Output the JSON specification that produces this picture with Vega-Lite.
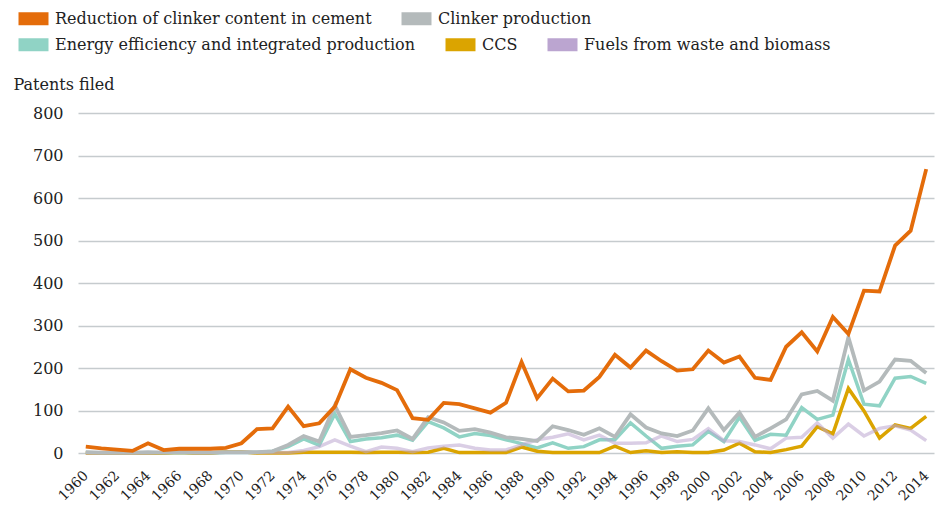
{
  "$schema": "https://vega.github.io/schema/vega-lite/v6.json",
  "width": 856,
  "height": 340,
  "autosize": "none",
  "padding": {"left": 78, "top": 113, "right": 1, "bottom": 53},
  "background": "white",
  "config": {
    "font": "DejaVu Serif",
    "view": {"stroke": null},
    "axis": {"labelFont": "DejaVu Serif", "titleFont": "DejaVu Serif", "labelColor": "#222222", "titleColor": "#222222"},
    "legend": {
      "orient": "none",
      "direction": "horizontal",
      "title": null,
      "symbolType": "M-1,0H1",
      "symbolSize": 900,
      "symbolStrokeWidth": 13,
      "labelFont": "DejaVu Serif",
      "labelFontSize": 16,
      "labelColor": "#222222",
      "labelLimit": 0,
      "labelOffset": 0,
      "columnPadding": 3
    }
  },
  "data": {
    "values": [
      {"year": 1960, "Reduction of clinker content in cement": 15, "Clinker production": 2, "Energy efficiency and integrated production": 1, "CCS": 0, "Fuels from waste and biomass": 0},
      {"year": 1961, "Reduction of clinker content in cement": 11, "Clinker production": 1, "Energy efficiency and integrated production": 0, "CCS": 0, "Fuels from waste and biomass": 0},
      {"year": 1962, "Reduction of clinker content in cement": 8, "Clinker production": 1, "Energy efficiency and integrated production": 0, "CCS": 0, "Fuels from waste and biomass": 0},
      {"year": 1963, "Reduction of clinker content in cement": 5, "Clinker production": 1, "Energy efficiency and integrated production": 0, "CCS": 0, "Fuels from waste and biomass": 0},
      {"year": 1964, "Reduction of clinker content in cement": 23, "Clinker production": 2, "Energy efficiency and integrated production": 0, "CCS": 0, "Fuels from waste and biomass": 0},
      {"year": 1965, "Reduction of clinker content in cement": 7, "Clinker production": 1, "Energy efficiency and integrated production": 0, "CCS": 0, "Fuels from waste and biomass": 2},
      {"year": 1966, "Reduction of clinker content in cement": 10, "Clinker production": 2, "Energy efficiency and integrated production": 1, "CCS": 2, "Fuels from waste and biomass": 8},
      {"year": 1967, "Reduction of clinker content in cement": 10, "Clinker production": 1, "Energy efficiency and integrated production": 0, "CCS": 0, "Fuels from waste and biomass": 1},
      {"year": 1968, "Reduction of clinker content in cement": 10, "Clinker production": 1, "Energy efficiency and integrated production": 0, "CCS": 0, "Fuels from waste and biomass": 1},
      {"year": 1969, "Reduction of clinker content in cement": 12, "Clinker production": 2, "Energy efficiency and integrated production": 1, "CCS": 3, "Fuels from waste and biomass": 1},
      {"year": 1970, "Reduction of clinker content in cement": 23, "Clinker production": 2, "Energy efficiency and integrated production": 1, "CCS": 3, "Fuels from waste and biomass": 1},
      {"year": 1971, "Reduction of clinker content in cement": 56, "Clinker production": 2, "Energy efficiency and integrated production": 1, "CCS": 0, "Fuels from waste and biomass": 1},
      {"year": 1972, "Reduction of clinker content in cement": 58, "Clinker production": 4, "Energy efficiency and integrated production": 4, "CCS": 0, "Fuels from waste and biomass": 1},
      {"year": 1973, "Reduction of clinker content in cement": 109, "Clinker production": 19, "Energy efficiency and integrated production": 15, "CCS": 0, "Fuels from waste and biomass": 1},
      {"year": 1974, "Reduction of clinker content in cement": 63, "Clinker production": 40, "Energy efficiency and integrated production": 33, "CCS": 2, "Fuels from waste and biomass": 6},
      {"year": 1975, "Reduction of clinker content in cement": 70, "Clinker production": 27, "Energy efficiency and integrated production": 18, "CCS": 2, "Fuels from waste and biomass": 15},
      {"year": 1976, "Reduction of clinker content in cement": 109, "Clinker production": 112, "Energy efficiency and integrated production": 92, "CCS": 2, "Fuels from waste and biomass": 31},
      {"year": 1977, "Reduction of clinker content in cement": 197, "Clinker production": 38, "Energy efficiency and integrated production": 27, "CCS": 2, "Fuels from waste and biomass": 16},
      {"year": 1978, "Reduction of clinker content in cement": 177, "Clinker production": 42, "Energy efficiency and integrated production": 33, "CCS": 1, "Fuels from waste and biomass": 3},
      {"year": 1979, "Reduction of clinker content in cement": 165, "Clinker production": 47, "Energy efficiency and integrated production": 36, "CCS": 2, "Fuels from waste and biomass": 14},
      {"year": 1980, "Reduction of clinker content in cement": 148, "Clinker production": 53, "Energy efficiency and integrated production": 42, "CCS": 2, "Fuels from waste and biomass": 11},
      {"year": 1981, "Reduction of clinker content in cement": 82, "Clinker production": 33, "Energy efficiency and integrated production": 30, "CCS": 1, "Fuels from waste and biomass": 3},
      {"year": 1982, "Reduction of clinker content in cement": 78, "Clinker production": 84, "Energy efficiency and integrated production": 74, "CCS": 2, "Fuels from waste and biomass": 12},
      {"year": 1983, "Reduction of clinker content in cement": 118, "Clinker production": 72, "Energy efficiency and integrated production": 59, "CCS": 11, "Fuels from waste and biomass": 16},
      {"year": 1984, "Reduction of clinker content in cement": 115, "Clinker production": 52, "Energy efficiency and integrated production": 38, "CCS": 1, "Fuels from waste and biomass": 19},
      {"year": 1985, "Reduction of clinker content in cement": 105, "Clinker production": 56, "Energy efficiency and integrated production": 46, "CCS": 1, "Fuels from waste and biomass": 11},
      {"year": 1986, "Reduction of clinker content in cement": 95, "Clinker production": 48, "Energy efficiency and integrated production": 41, "CCS": 1, "Fuels from waste and biomass": 7},
      {"year": 1987, "Reduction of clinker content in cement": 118, "Clinker production": 37, "Energy efficiency and integrated production": 31, "CCS": 1, "Fuels from waste and biomass": 7},
      {"year": 1988, "Reduction of clinker content in cement": 214, "Clinker production": 33, "Energy efficiency and integrated production": 22, "CCS": 14, "Fuels from waste and biomass": 19},
      {"year": 1989, "Reduction of clinker content in cement": 129, "Clinker production": 28, "Energy efficiency and integrated production": 12, "CCS": 4, "Fuels from waste and biomass": 31},
      {"year": 1990, "Reduction of clinker content in cement": 175, "Clinker production": 63, "Energy efficiency and integrated production": 24, "CCS": 1, "Fuels from waste and biomass": 37},
      {"year": 1991, "Reduction of clinker content in cement": 145, "Clinker production": 54, "Energy efficiency and integrated production": 11, "CCS": 1, "Fuels from waste and biomass": 45},
      {"year": 1992, "Reduction of clinker content in cement": 147, "Clinker production": 43, "Energy efficiency and integrated production": 15, "CCS": 1, "Fuels from waste and biomass": 31},
      {"year": 1993, "Reduction of clinker content in cement": 179, "Clinker production": 58, "Energy efficiency and integrated production": 31, "CCS": 1, "Fuels from waste and biomass": 42},
      {"year": 1994, "Reduction of clinker content in cement": 231, "Clinker production": 38, "Energy efficiency and integrated production": 31, "CCS": 16, "Fuels from waste and biomass": 23},
      {"year": 1995, "Reduction of clinker content in cement": 201, "Clinker production": 91, "Energy efficiency and integrated production": 71, "CCS": 1, "Fuels from waste and biomass": 23},
      {"year": 1996, "Reduction of clinker content in cement": 241, "Clinker production": 60, "Energy efficiency and integrated production": 40, "CCS": 5, "Fuels from waste and biomass": 24},
      {"year": 1997, "Reduction of clinker content in cement": 216, "Clinker production": 46, "Energy efficiency and integrated production": 11, "CCS": 1, "Fuels from waste and biomass": 40},
      {"year": 1998, "Reduction of clinker content in cement": 194, "Clinker production": 40, "Energy efficiency and integrated production": 16, "CCS": 3, "Fuels from waste and biomass": 27},
      {"year": 1999, "Reduction of clinker content in cement": 197, "Clinker production": 53, "Energy efficiency and integrated production": 19, "CCS": 1, "Fuels from waste and biomass": 32},
      {"year": 2000, "Reduction of clinker content in cement": 241, "Clinker production": 105, "Energy efficiency and integrated production": 51, "CCS": 1, "Fuels from waste and biomass": 57},
      {"year": 2001, "Reduction of clinker content in cement": 213, "Clinker production": 54, "Energy efficiency and integrated production": 27, "CCS": 7, "Fuels from waste and biomass": 29},
      {"year": 2002, "Reduction of clinker content in cement": 227, "Clinker production": 95, "Energy efficiency and integrated production": 84, "CCS": 23, "Fuels from waste and biomass": 27},
      {"year": 2003, "Reduction of clinker content in cement": 177, "Clinker production": 38, "Energy efficiency and integrated production": 30, "CCS": 3, "Fuels from waste and biomass": 19},
      {"year": 2004, "Reduction of clinker content in cement": 172, "Clinker production": 58, "Energy efficiency and integrated production": 44, "CCS": 1, "Fuels from waste and biomass": 10},
      {"year": 2005, "Reduction of clinker content in cement": 250, "Clinker production": 79, "Energy efficiency and integrated production": 42, "CCS": 8, "Fuels from waste and biomass": 35},
      {"year": 2006, "Reduction of clinker content in cement": 284, "Clinker production": 138, "Energy efficiency and integrated production": 107, "CCS": 16, "Fuels from waste and biomass": 37},
      {"year": 2007, "Reduction of clinker content in cement": 239, "Clinker production": 146, "Energy efficiency and integrated production": 79, "CCS": 62, "Fuels from waste and biomass": 71},
      {"year": 2008, "Reduction of clinker content in cement": 320, "Clinker production": 123, "Energy efficiency and integrated production": 89, "CCS": 45, "Fuels from waste and biomass": 35},
      {"year": 2009, "Reduction of clinker content in cement": 280, "Clinker production": 272, "Energy efficiency and integrated production": 220, "CCS": 152, "Fuels from waste and biomass": 68},
      {"year": 2010, "Reduction of clinker content in cement": 382, "Clinker production": 147, "Energy efficiency and integrated production": 115, "CCS": 99, "Fuels from waste and biomass": 40},
      {"year": 2011, "Reduction of clinker content in cement": 380, "Clinker production": 168, "Energy efficiency and integrated production": 111, "CCS": 35, "Fuels from waste and biomass": 58},
      {"year": 2012, "Reduction of clinker content in cement": 488, "Clinker production": 220, "Energy efficiency and integrated production": 176, "CCS": 66, "Fuels from waste and biomass": 64},
      {"year": 2013, "Reduction of clinker content in cement": 523, "Clinker production": 217, "Energy efficiency and integrated production": 180, "CCS": 58, "Fuels from waste and biomass": 54},
      {"year": 2014, "Reduction of clinker content in cement": 668, "Clinker production": 188, "Energy efficiency and integrated production": 164, "CCS": 86, "Fuels from waste and biomass": 29}
    ]
  },
  "encoding": {
    "x": {
      "field": "year",
      "type": "ordinal",
      "scale": {"type": "point", "padding": 0.5},
      "axis": {
        "title": null,
        "domain": false,
        "ticks": false,
        "grid": false,
        "labelAngle": -45,
        "labelAlign": "right",
        "labelBaseline": "middle",
        "labelFontSize": 14,
        "labelPadding": 20,
        "labelExpr": "datum.value % 2 == 0 ? datum.label : ''"
      }
    },
    "y": {
      "field": "value",
      "type": "quantitative",
      "scale": {"domain": [0, 800]},
      "axis": {
        "values": [0, 100, 200, 300, 400, 500, 600, 700, 800],
        "domain": false,
        "ticks": false,
        "grid": true,
        "gridColor": "#c6cbce",
        "gridWidth": 1.5,
        "labelFontSize": 16,
        "labelPadding": 15,
        "title": "Patents filed",
        "titleAngle": 0,
        "titleX": -65,
        "titleY": -29,
        "titleAlign": "left",
        "titleBaseline": "middle",
        "titleFontSize": 16,
        "titleFontWeight": "normal"
      }
    }
  },
  "layer": [
    {
      "transform": [
        {"fold": ["Energy efficiency and integrated production", "CCS", "Fuels from waste and biomass"], "as": ["series", "value"]}
      ],
      "mark": {"type": "line", "strokeWidth": 3.5},
      "encoding": {
        "color": {
          "field": "series",
          "type": "nominal",
          "scale": {
            "domain": ["Energy efficiency and integrated production", "CCS", "Fuels from waste and biomass"],
            "range": ["#90d3c5", "#dba400", "#bba5d0"]
          },
          "legend": {"legendX": -66, "legendY": -90}
        },
        "strokeOpacity": {
          "condition": {"test": "datum.series === 'Fuels from waste and biomass'", "value": 0.55},
          "value": 1
        }
      }
    },
    {
      "transform": [
        {"fold": ["Clinker production", "Reduction of clinker content in cement"], "as": ["series", "value"]}
      ],
      "mark": {"type": "line", "strokeWidth": 3.8},
      "encoding": {
        "color": {
          "field": "series",
          "type": "nominal",
          "scale": {
            "domain": ["Reduction of clinker content in cement", "Clinker production"],
            "range": ["#e46c0a", "#b4babb"]
          },
          "legend": {"legendX": -66, "legendY": -116}
        }
      }
    }
  ],
  "resolve": {"scale": {"color": "independent"}, "legend": {"color": "independent"}}
}
